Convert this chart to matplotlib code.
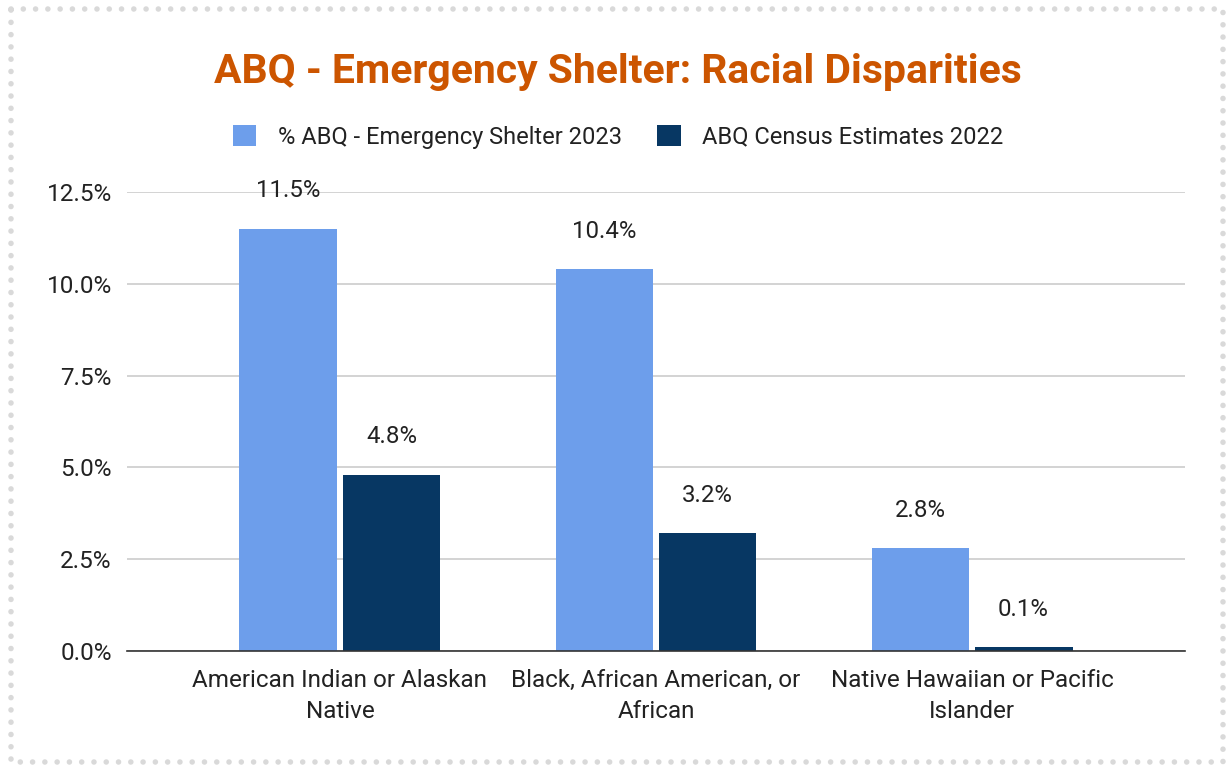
from matplotlib import pyplot as plt
from matplotlib.lines import Line2D
from matplotlib.ticker import FuncFormatter
import numpy as np

plt.rcParams['font.family'] = ['Roboto', 'DejaVu Sans']

categories = ['American Indian or Alaskan\nNative',
              'Black, African American, or\nAfrican',
              'Native Hawaiian or Pacific\nIslander']
shelter_2023 = [11.5, 10.4, 2.8]
census_2022 = [4.8, 3.2, 0.1]
series_names = ['% ABQ - Emergency Shelter 2023', 'ABQ Census Estimates 2022']
yticks = [0.0, 2.5, 5.0, 7.5, 10.0, 12.5]

W, H = 1231, 768
fig = plt.figure(figsize=(W / 100, H / 100), dpi=100)
fig.patch.set_facecolor('white')

# axes placed in pixel terms
left, right, bottom, top = 127, 1185, 651, 192
ax = fig.add_axes([left / W, (H - bottom) / H, (right - left) / W, (bottom - top) / H])

light = '#6d9eeb'
dark = '#073763'
x = np.arange(len(categories))
width = 0.31
off = 0.163

b1 = ax.bar(x - off, shelter_2023, width, color=light, label=series_names[0], zorder=3)
b2 = ax.bar(x + off, census_2022, width, color=dark, label=series_names[1], zorder=3)

for bars, vals in [(b1, shelter_2023), (b2, census_2022)]:
    for rect, v in zip(bars, vals):
        ax.annotate('%.1f%%' % v,
                    (rect.get_x() + rect.get_width() / 2, v),
                    xytext=(0, 38), textcoords='offset pixels',
                    ha='center', va='center', fontsize=17.3, color='#222222', zorder=4)

ax.set_xlim(-0.674, 2.674)
ax.set_ylim(0, 12.5)
ax.set_yticks(yticks)
ax.yaxis.set_major_formatter(FuncFormatter(lambda v, p: '%.1f%%' % v))
ax.set_xticks(x)
ax.set_xticklabels(categories, fontsize=17.5, color='#222222', linespacing=1.43)
ax.tick_params(axis='y', length=0, pad=11, labelsize=17.5, labelcolor='#222222')
ax.tick_params(axis='x', length=0, pad=13)

ax.grid(axis='y', color='#cccccc', lw=1.2, zorder=0)
for s in ['top', 'left', 'right']:
    ax.spines[s].set_visible(False)
ax.spines['bottom'].set_color('#333333')
ax.spines['bottom'].set_linewidth(1.2)
ax.spines['bottom'].set_zorder(5)

# title and legend
fig.text(618 / W, 1 - 72 / H, 'ABQ - Emergency Shelter: Racial Disparities',
         ha='center', va='center', fontsize=29.4, fontweight='bold', color='#cc5500')
fig.legend(loc='center', bbox_to_anchor=(618 / W, 1 - 137 / H), ncol=2,
           frameon=False, fontsize=17, handlelength=1.0, handleheight=1.0,
           columnspacing=1.5, handletextpad=0.9, labelcolor='#222222')

# dotted border
bl, br, bt, bb = 11, 1223, 9, 762
xs = [bl, br, br, bl, bl]
ys = [bt, bt, bb, bb, bt]
border = Line2D([v / W for v in xs], [1 - v / H for v in ys], transform=fig.transFigure,
                color='#d9d9d9', lw=4, linestyle=(0, (0.01, 2.2)),
                dash_capstyle='round')
fig.add_artist(border)

fig.savefig('out.png', dpi=100)
